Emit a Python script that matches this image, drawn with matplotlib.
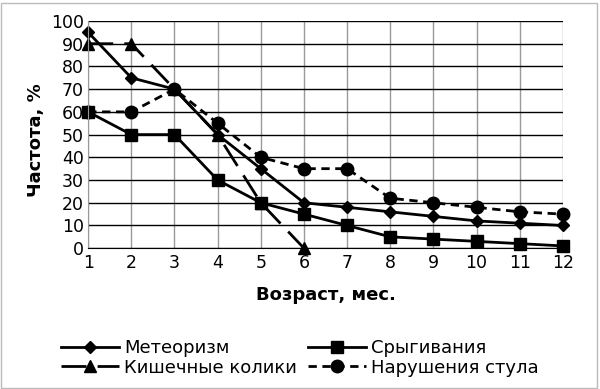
import matplotlib.pyplot as plt
from matplotlib.patches import Rectangle

# months and series (%)
months = list(range(1, 13))
meteorizm = [95, 75, 70, 50, 35, 20, 18, 16, 14, 12, 11, 10]
srygivaniya = [60, 50, 50, 30, 20, 15, 10, 5, 4, 3, 2, 1]
koliki_months = [1, 2, 3, 4, 5, 6]
koliki = [90, 90, 70, 50, 20, 0]
stul = [60, 60, 70, 55, 40, 35, 35, 22, 20, 18, 16, 15]

plt.rcParams['font.family'] = ['DejaVu Sans']

fig = plt.figure(figsize=(6, 3.89), dpi=100)
ax = fig.add_axes([0.147, 0.362, 0.791, 0.584])

l1, = ax.plot(months, meteorizm, color='black', lw=2, marker='D', ms=6,
              label='Метеоризм', clip_on=False)
l2, = ax.plot(months, srygivaniya, color='black', lw=2, marker='s', ms=9,
              label='Срыгивания', clip_on=False)
l3, = ax.plot(koliki_months, koliki, color='black', lw=2, ls=(0, (9, 4)), marker='^', ms=8,
              label='Кишечные колики', clip_on=False)
l4, = ax.plot(months, stul, color='black', lw=2, ls=(0, (3, 2)), marker='o', ms=9,
              label='Нарушения стула', clip_on=False)

ax.set_xlim(1, 12)
ax.set_ylim(0, 100)
ax.set_xticks(months)
ax.set_yticks(range(0, 101, 10))
ax.tick_params(length=0, labelsize=12.5)
ax.tick_params(axis='x', pad=4)
ax.tick_params(axis='y', pad=3)
ax.yaxis.grid(True, color='black', lw=1)
ax.xaxis.grid(True, color='#999999', lw=1)
ax.set_axisbelow(True)
for s in ['top', 'right']:
    ax.spines[s].set_visible(False)
ax.spines['left'].set_color('#999999')
ax.spines['bottom'].set_color('black')

ax.set_xlabel('Возраст, мес.', fontsize=13, fontweight='bold', labelpad=10)
ax.set_ylabel('Частота, %', fontsize=13, fontweight='bold')
ax.yaxis.set_label_coords(-0.091, 0.475)

# legend filled column-wise, so order gives rows: Метеоризм/Срыгивания, Колики/Стул
fig.legend([l1, l3, l2, l4], [l.get_label() for l in [l1, l3, l2, l4]],
           loc='lower center', bbox_to_anchor=(0.5, -0.01), ncol=2, frameon=False,
           fontsize=13, handlelength=3.2, columnspacing=0.6, labelspacing=0.1,
           handletextpad=0.3)

fig.patches.append(Rectangle((0.002, 0.003), 0.993, 0.99, transform=fig.transFigure,
                             fill=False, edgecolor='#bbbbbb', lw=1))

fig.savefig('out.png', dpi=100)
